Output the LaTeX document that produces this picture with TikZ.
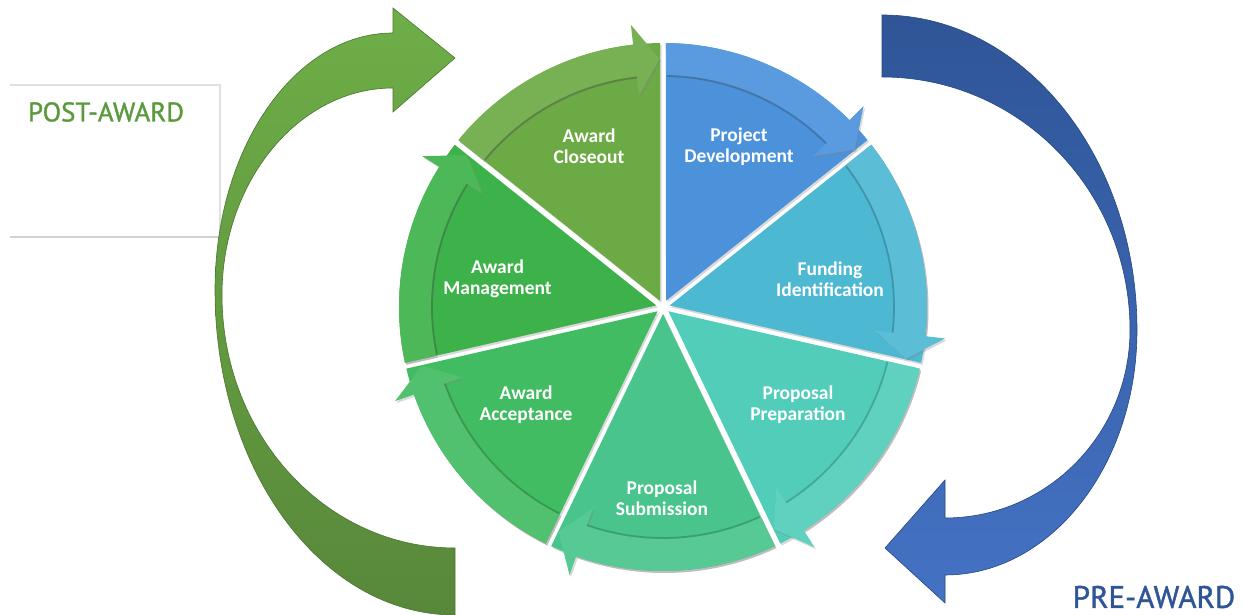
\documentclass[tikz,border=0pt]{standalone}
\usepackage{fontspec}
\setmainfont{Carlito}
\newfontfamily\ptsans[FakeBold=1.3]{PT Sans}
\usetikzlibrary{calc,shadows}
\definecolor{cPD}{RGB}{75,146,219}
\definecolor{cFI}{RGB}{77,184,210}
\definecolor{cPP}{RGB}{82,205,185}
\definecolor{cPS}{RGB}{72,196,140}
\definecolor{cAA}{RGB}{66,188,98}
\definecolor{cAM}{RGB}{62,178,74}
\definecolor{cAC}{RGB}{107,170,68}
\definecolor{gTop}{RGB}{110,174,71}
\definecolor{gBot}{RGB}{88,136,58}
\definecolor{bTop}{RGB}{47,85,151}
\definecolor{bBot}{RGB}{68,114,196}
\definecolor{postc}{RGB}{90,154,61}
\definecolor{prec}{RGB}{47,85,151}
\begin{document}
\begin{tikzpicture}[x=1pt,y=1pt,
  lbl/.style={text=white,font=\bfseries\fontsize{19.5}{21}\selectfont,align=center,inner sep=0pt},
  shd/.style={drop shadow={opacity=0.3,shadow xshift=1.5pt,shadow yshift=-2pt}},
  boxline/.style={draw=black!12,line width=1.2pt}]
\useasboundingbox (0,0) rectangle (1243,615);
\coordinate (O) at (663,308);

% POST-AWARD box
\coordinate (b1) at (10,530);
\coordinate (b2) at (220,530);
\coordinate (b3) at (220,378);
\coordinate (b4) at (10,378);
\draw[boxline] (b1) -- (b2) -- (b3);
\draw[draw=black!18,line width=1.2pt] (b3) -- (b4);
\node[text=postc,font=\ptsans\fontsize{27}{30}\selectfont,inner sep=0pt] (post) at (106,503) {POST-AWARD};

% big green arrow
\path[top color=gTop,bottom color=gBot,draw=gBot!85!black,line width=0.6pt]
  (393,582) .. controls (295,582) and (215,467) .. (215,325)
  .. controls (215,145) and (322,0) .. (455,0)
  -- (455,67)
  .. controls (326,67) and (222,180) .. (222,320)
  .. controls (222,434) and (299,527) .. (393,527)
  -- (393,503) -- (455,557) -- (393,607) -- cycle;

% big blue arrow
\path[top color=bTop,bottom color=bBot,draw=bTop!85!black,line width=0.6pt]
  (882,600) .. controls (1023,600) and (1137,459) .. (1137,285)
  .. controls (1137,150) and (1051,40) .. (945,40)
  -- (945,12) -- (885,67) -- (945,135) -- (945,97)
  .. controls (1047,97) and (1130,181) .. (1130,285)
  .. controls (1130,425) and (1019,538) .. (882,538) -- cycle;

% wedges
\foreach \k/\col in {0/cPD,1/cFI,2/cPP,3/cPS,4/cAA,5/cAM,6/cAC}{
  \pgfmathsetmacro{\as}{90-\k*360/7}
  \pgfmathsetmacro{\ae}{\as-360/7}
  \pgfmathsetmacro{\md}{\as-180/7}
  \path[fill=\col,shd] ($(O)+(\md:6.9)$) -- ($(O)+(\as-0.65:264)$)
    arc[start angle=\as-0.65,end angle=\ae+0.65,radius=264] -- cycle;
}
% bands with arrow heads
\foreach \k/\col in {0/cPD,1/cFI,2/cPP,3/cPS,4/cAA,5/cAM,6/cAC}{
  \pgfmathsetmacro{\as}{90-\k*360/7}
  \pgfmathsetmacro{\ae}{\as-360/7}
  \pgfmathsetmacro{\bb}{\ae+6.5}
  \pgfmathsetmacro{\tp}{\ae+0.8}
  \path[fill=\col!92!white,shd] ($(O)+(\as-0.65:264)$)
    arc[start angle=\as-0.65,end angle=\bb,radius=264]
    -- ($(O)+(\bb:284)$) -- ($(O)+(\tp:248)$) -- ($(O)+(\bb:213)$)
    -- ($(O)+(\bb:232)$)
    arc[start angle=\bb,end angle=\as-0.74,radius=232] -- cycle;
  \draw[\col!60!black,opacity=0.45,line width=1.8pt] ($(O)+(\as-1:231)$)
    arc[start angle=\as-1,end angle=\bb,radius=231];
}

% labels
\node[lbl] (pd) at (739,468.5) {Project\\Development};
\node[lbl] (fi) at (830,336) {Funding\\Identification};
\node[lbl] (pp) at (798,210) {Proposal\\Preparation};
\node[lbl] (ps) at (662,116.5) {Proposal\\Submission};
\node[lbl] (aa) at (526,210) {Award\\Acceptance};
\node[lbl] (am) at (497.5,336) {Award\\Management};
\node[lbl] (ac) at (589,469) {Award\\Closeout};

\node[text=prec,font=\ptsans\fontsize{31}{34}\selectfont,inner sep=0pt] (pre) at (1154,18) {PRE-AWARD};
\end{tikzpicture}
\end{document}
